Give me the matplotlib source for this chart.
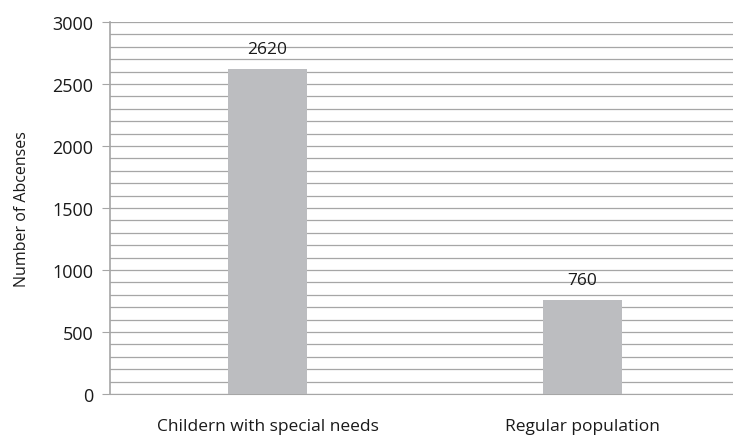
import matplotlib.pyplot as plt
import numpy as np

categories = ["Childern with special needs", "Regular population"]
absences = [2620, 760]

plt.rcParams['font.family'] = ['Open Sans', 'DejaVu Sans']

fig = plt.figure(figsize=(7.33, 4.39), dpi=100)
ax = fig.add_axes([110 / 733, 1 - 395 / 439, 630 / 733, 372 / 439])

x = np.arange(len(categories))
bars = ax.bar(x, absences, width=0.25, color='#bcbdc0', zorder=3)
for b, v in zip(bars, absences):
    ax.text(b.get_x() + b.get_width() / 2, v + 95, str(v),
            ha='center', va='bottom', fontsize=12.5, color='#1a1a1a', zorder=4)

ax.set_xlim(-0.5, 1.5)
ax.set_ylim(0, 3000)
ax.set_yticks(np.arange(0, 3001, 500))
ax.set_yticks(np.arange(0, 3001, 100), minor=True)
ax.grid(True, axis='y', which='both', color='#a6a6a6', linewidth=0.9, zorder=0)

ax.set_xticks(x)
ax.set_xticklabels(categories, fontsize=12.5, color='#1a1a1a')
ax.tick_params(axis='x', length=0, pad=17)
ax.tick_params(axis='y', which='major', length=6, color='#a6a6a6',
               labelsize=13, labelcolor='#1a1a1a', pad=6)
ax.tick_params(axis='y', which='minor', length=0)

for s in ['top', 'right']:
    ax.spines[s].set_visible(False)
ax.spines['left'].set_color('#a6a6a6')
ax.spines['left'].set_linewidth(1.2)
ax.spines['bottom'].set_color('#a6a6a6')

ax.set_ylabel("Number of Abcenses", fontsize=11.5, color='#1a1a1a', labelpad=16)

fig.savefig("out.png", dpi=100)
